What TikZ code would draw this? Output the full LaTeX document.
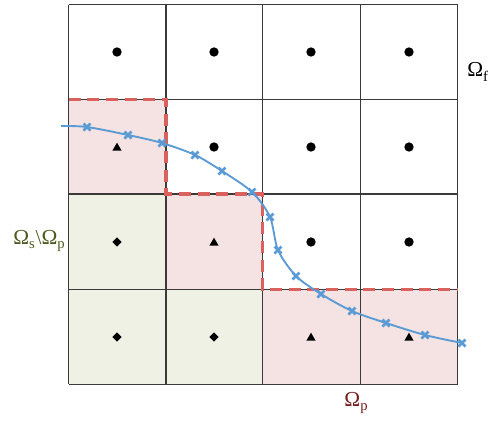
\documentclass[tikz,border=0pt]{standalone}
\usepackage{fontspec}
\setmainfont{Liberation Serif}
\usetikzlibrary{shapes.geometric}
\definecolor{pinkfill}{HTML}{F5E2E2}
\definecolor{greenfill}{HTML}{EEF1E3}
\definecolor{gridc}{HTML}{3A3A3A}
\definecolor{redd}{HTML}{D9625F}
\definecolor{bluec}{HTML}{5B9BD5}
\definecolor{olivec}{HTML}{4B5A1E}
\definecolor{darkred}{HTML}{7A1C1C}
\newcommand{\mysub}[1]{\raisebox{-0.45ex}{\fontsize{11}{12}\selectfont #1}}
\tikzset{
  circ/.style={circle,fill=black,inner sep=0pt,minimum size=7pt},
  tri/.style={regular polygon,regular polygon sides=3,fill=black,inner sep=0pt,minimum size=8pt},
  dia/.style={diamond,fill=black,inner sep=0pt,minimum size=7pt},
  lab/.style={font=\fontsize{16}{18}\selectfont,inner sep=0pt}
}
\begin{document}
\begin{tikzpicture}[x=0.75pt,y=-0.75pt]
\useasboundingbox (0,0) rectangle (490,425);
% fills
\fill[pinkfill] (68.5,99.3) rectangle (166,194);
\fill[pinkfill] (166,194) rectangle (262.7,289.7);
\fill[pinkfill] (262.7,289.7) rectangle (457.5,384.3);
\fill[greenfill] (68.5,194) rectangle (166,384.3);
\fill[greenfill] (166,289.7) rectangle (262.7,384.3);
% grid
\foreach \x in {68.5,166,262.7,360.3,457.5}
  \draw[gridc,line width=1pt] (\x,4.7) -- (\x,384.3);
\foreach \y in {4.7,99.3,194,289.7,384.3}
  \draw[gridc,line width=1pt] (68.5,\y) -- (457.5,\y);
% markers
\foreach \x/\y [count=\i] in {117/52,214/52,311/52,409/52,214/147,311/147,409/147,311/242,409/242}
  \node[circ] (c\i) at (\x,\y) {};
\foreach \x/\y [count=\i] in {117/147,214/242,311/337,409/337}
  \node[tri] (t\i) at (\x,\y+1) {};
\foreach \x/\y [count=\i] in {117/242,117/337,214/337}
  \node[dia] (d\i) at (\x,\y) {};
% red dashed boundary
\draw[redd,line width=2.6pt,dash pattern=on 9pt off 5pt]
  (68.5,99.3) -- (166,99.3) -- (166,194) -- (262.7,194) -- (262.7,289.7) -- (457.5,289.7);
% blue curve
\draw[bluec,line width=1.4pt] plot[smooth,tension=0.5] coordinates {(61,126) (87,127) (128,135) (162,143) (195,155) (222,171) (252,192) (270,217) (278,250) (296,276) (321,294) (352,311) (386,323) (425,335) (462,343)};
\foreach \x/\y in {87/127,128/135,162/143,195/155,222/171,252/192,270/217,278/250,296/276,321/294,352/311,386/323,425/335,462/343}
  \draw[bluec,line width=2pt] (\x-3.5,\y-3.5) -- (\x+3.5,\y+3.5) (\x-3.5,\y+3.5) -- (\x+3.5,\y-3.5);
% labels
\node[lab,anchor=west] (of) at (467,72) {Ω\mysub{f}};
\node[lab,text=olivec,anchor=east] (os) at (65,241) {Ω\mysub{s}\kern0.5pt\textbackslash Ω\mysub{p}};
\node[lab,text=darkred] (op) at (356,403) {Ω\mysub{p}};
\end{tikzpicture}
\end{document}
